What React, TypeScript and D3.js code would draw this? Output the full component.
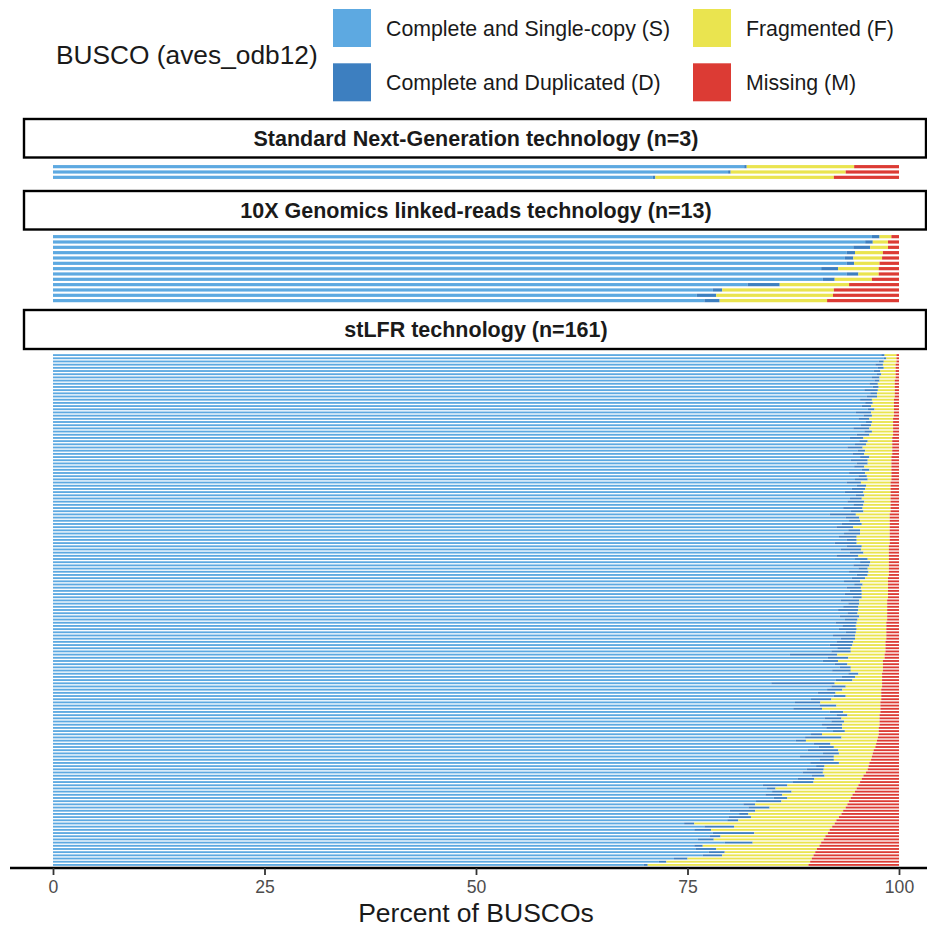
import * as d3 from "d3";
import { useEffect, useRef } from "react";

// BUSCO categories, legend and facets
const categories = ["S", "D", "F", "M"];
const categoryLabels = [
  "Complete and Single-copy (S)",
  "Complete and Duplicated (D)",
  "Fragmented (F)",
  "Missing (M)",
];
const categoryColors = ["#5DA9E1", "#3D7FC0", "#EAE44F", "#DC3B34"];
const panelTitles = [
  "Standard Next-Generation technology (n=3)",
  "10X Genomics linked-reads technology (n=13)",
  "stLFR technology (n=161)",
];
const xTicks = [0, 25, 50, 75, 100];

// Standard NGS (n=3)
const standardS = [81.7, 79.8, 70.9];
const standardD = [0.3, 0.3, 0.3];
const standardF = [12.7, 13.6, 21.1];
const standardM = [5.3, 6.3, 7.7];

// 10X linked reads (n=13)
const tenxS = [96.8, 96.0, 94.6, 93.8, 93.6, 93.8, 90.8, 93.8, 91.0, 82.1, 78.0, 76.1, 77.0];
const tenxD = [0.9, 0.9, 2.0, 1.0, 1.0, 0.9, 2.0, 1.4, 1.4, 3.8, 1.1, 2.3, 1.8];
const tenxF = [1.4, 1.8, 2.1, 3.3, 3.4, 3.0, 4.8, 2.4, 4.4, 8.2, 13.2, 13.8, 12.7];
const tenxM = [0.9, 1.3, 1.3, 1.9, 2.0, 2.3, 2.4, 2.4, 3.2, 5.9, 7.7, 7.8, 8.5];

// stLFR (n=161)
const stlfrS = [
  97.9, 98.2, 97.6, 97.2, 97.5, 97.0, 97.4, 96.8, 97.1, 96.5,
  96.9, 95.9, 96.6, 96.2, 95.4, 96.0, 95.6, 96.3, 94.9, 95.8,
  95.2, 96.1, 95.5, 94.6, 95.9, 95.0, 94.2, 95.3, 94.8, 93.9,
  95.1, 94.5, 95.4, 94.3, 95.0, 94.7, 95.6, 94.1, 95.2, 94.8,
  93.8, 95.0, 94.4, 93.6, 94.9, 94.2, 93.9, 94.6, 93.4, 94.3,
  91.8, 93.7, 94.1, 93.2, 92.6, 94.0, 93.5, 92.9, 93.8, 92.4,
  93.8, 93.1, 94.2, 92.6, 94.8, 95.4, 94.6, 95.2, 94.1, 95.0,
  94.4, 93.5, 94.7, 93.8, 94.2, 93.6, 94.5, 93.1, 94.0, 93.4,
  92.8, 93.9, 93.0, 93.6, 92.5, 93.3, 92.9, 93.7, 92.2, 93.1,
  92.6, 91.8, 92.7, 92.0, 87.1, 91.6, 91.0, 92.4, 93.0, 92.1,
  94.0, 93.2, 92.5, 84.9, 92.0, 91.5, 90.4, 92.3, 89.6, 87.7,
  90.6, 87.5, 91.8, 92.6, 91.2, 92.0, 90.9, 91.4, 92.2, 89.6,
  88.9, 87.8, 89.9, 90.5, 89.2, 91.0, 88.3, 90.6, 89.5, 90.2,
  89.1, 88.6, 89.7, 88.0, 87.4, 83.9, 84.4, 85.0, 84.2, 85.2,
  83.1, 81.6, 82.2, 80.0, 81.1, 79.9, 79.7, 74.6, 77.0, 75.8,
  78.0, 77.6, 76.2, 79.4, 75.8, 76.0, 77.5, 76.8, 73.4, 71.6,
  69.8,
];
const stlfrD = [
  0.4, 0.3, 0.6, 0.9, 0.7, 0.8, 0.5, 0.9, 0.6, 1.0,
  0.7, 1.6, 0.8, 1.2, 1.4, 0.9, 1.1, 0.8, 1.8, 1.0,
  1.3, 0.7, 1.2, 1.9, 0.9, 1.5, 1.6, 1.0, 1.3, 1.8,
  0.9, 1.4, 1.1, 2.0, 1.3, 1.2, 0.9, 1.9, 1.0, 1.5,
  1.7, 1.1, 1.6, 2.2, 1.0, 1.4, 2.0, 1.2, 2.3, 1.5,
  3.1, 1.6, 1.3, 2.4, 2.0, 1.4, 1.9, 2.1, 1.2, 2.6,
  1.8, 2.4, 1.6, 2.6, 1.5, 1.2, 1.9, 1.1, 2.3, 1.3,
  1.6, 1.9, 1.0, 1.7, 1.4, 2.0, 1.1, 2.2, 1.3, 1.8,
  2.4, 1.2, 2.3, 1.5, 2.5, 1.6, 2.1, 1.2, 2.6, 1.7,
  2.0, 2.7, 1.6, 2.3, 5.6, 2.4, 1.8, 1.5, 1.3, 2.2,
  1.2, 1.6, 2.0, 7.5, 1.7, 1.8, 2.1, 1.4, 2.4, 3.0,
  2.0, 3.4, 1.6, 1.3, 2.0, 1.5, 2.4, 1.9, 1.4, 1.3,
  4.3, 1.2, 2.0, 1.8, 3.6, 1.9, 4.0, 1.7, 3.4, 1.0,
  2.0, 2.4, 1.5, 2.0, 2.5, 2.9, 1.0, 2.3, 2.0, 1.6,
  3.0, 1.4, 2.5, 3.0, 1.1, 2.6, 1.3, 1.2, 3.5, 2.0,
  4.9, 1.3, 1.9, 3.3, 1.0, 2.4, 1.9, 2.3, 1.6, 0.9,
  0.5,
];
const stlfrF = [
  1.4, 1.2, 1.5, 1.5, 1.4, 1.8, 1.7, 1.9, 1.8, 2.0,
  1.9, 2.0, 2.1, 2.1, 2.6, 2.5, 2.7, 2.3, 2.7, 2.6,
  2.8, 2.5, 2.6, 2.8, 2.5, 2.8, 3.4, 2.9, 3.1, 3.5,
  3.2, 3.3, 2.6, 2.8, 2.8, 3.2, 2.6, 3.1, 2.9, 2.8,
  3.5, 2.9, 3.0, 3.2, 3.1, 3.4, 3.1, 3.2, 3.3, 3.2,
  4.0, 3.6, 3.5, 3.3, 4.3, 3.5, 3.5, 3.9, 3.9, 3.9,
  3.2, 3.3, 3.0, 3.6, 2.5, 2.2, 2.3, 2.5, 2.4, 2.5,
  2.7, 3.3, 3.0, 3.2, 3.1, 3.1, 3.1, 3.3, 3.3, 3.4,
  3.4, 3.5, 3.3, 3.5, 3.5, 3.6, 3.5, 3.6, 3.7, 3.7,
  3.8, 3.9, 4.1, 4.1, 5.6, 4.3, 5.3, 4.2, 3.8, 3.8,
  2.8, 3.2, 3.5, 5.6, 4.3, 4.6, 5.4, 4.2, 5.9, 7.1,
  5.2, 6.9, 4.4, 3.8, 4.5, 4.2, 4.4, 4.3, 4.0, 6.7,
  4.3, 8.4, 5.4, 4.9, 4.2, 4.0, 4.5, 4.4, 3.6, 5.2,
  5.2, 5.1, 4.6, 5.6, 5.5, 8.4, 9.6, 7.5, 8.3, 7.5,
  8.0, 10.9, 9.0, 10.4, 11.0, 10.4, 11.6, 16.6, 11.6, 14.0,
  8.7, 12.4, 13.0, 8.1, 13.8, 11.9, 10.7, 10.8, 14.7, 17.0,
  19.0,
];
const stlfrM = [
  0.3, 0.3, 0.3, 0.4, 0.4, 0.4, 0.4, 0.4, 0.5, 0.5,
  0.5, 0.5, 0.5, 0.5, 0.6, 0.6, 0.6, 0.6, 0.6, 0.6,
  0.7, 0.7, 0.7, 0.7, 0.7, 0.7, 0.8, 0.8, 0.8, 0.8,
  0.8, 0.8, 0.9, 0.9, 0.9, 0.9, 0.9, 0.9, 0.9, 0.9,
  1.0, 1.0, 1.0, 1.0, 1.0, 1.0, 1.0, 1.0, 1.0, 1.0,
  1.1, 1.1, 1.1, 1.1, 1.1, 1.1, 1.1, 1.1, 1.1, 1.1,
  1.2, 1.2, 1.2, 1.2, 1.2, 1.2, 1.2, 1.2, 1.2, 1.2,
  1.3, 1.3, 1.3, 1.3, 1.3, 1.3, 1.3, 1.4, 1.4, 1.4,
  1.4, 1.4, 1.4, 1.4, 1.5, 1.5, 1.5, 1.5, 1.5, 1.5,
  1.6, 1.6, 1.6, 1.6, 1.7, 1.7, 1.9, 1.9, 1.9, 1.9,
  2.0, 2.0, 2.0, 2.0, 2.0, 2.1, 2.1, 2.1, 2.1, 2.2,
  2.2, 2.2, 2.2, 2.3, 2.3, 2.3, 2.3, 2.4, 2.4, 2.4,
  2.5, 2.6, 2.7, 2.8, 3.0, 3.1, 3.2, 3.3, 3.5, 3.6,
  3.7, 3.9, 4.2, 4.4, 4.6, 4.8, 5.0, 5.2, 5.5, 5.7,
  5.9, 6.1, 6.3, 6.6, 6.8, 7.1, 7.4, 7.6, 7.9, 8.2,
  8.4, 8.7, 8.9, 9.2, 9.4, 9.7, 9.9, 10.1, 10.3, 10.5,
  10.7,
];

const W = 927;
const H = 930;
const FONT = "'Liberation Sans', Arial, Helvetica, sans-serif";

const x = d3.scaleLinear().domain([0, 100]).range([53, 899]);

const panels = [
  { title: panelTitles[0], cols: [standardS, standardD, standardF, standardM], strip: [119, 157.5], y: [164, 180], pad: 0.4 },
  { title: panelTitles[1], cols: [tenxS, tenxD, tenxF, tenxM], strip: [191, 229.5], y: [234, 303.3], pad: 0.4 },
  { title: panelTitles[2], cols: [stlfrS, stlfrD, stlfrF, stlfrM], strip: [310, 349], y: [353.5, 866.5], pad: 0.42 },
];

function Panel({ p }) {
  const n = p.cols[0].length;
  const y = d3
    .scaleBand()
    .domain(d3.range(n))
    .range(p.y)
    .paddingInner(p.pad)
    .paddingOuter(p.pad / 2);
  const rows = d3.range(n).map((i) => {
    let acc = 0;
    return categories.map((c, k) => {
      const v = p.cols[k][i];
      const seg = { key: c, i, x0: acc, x1: acc + v, color: categoryColors[k] };
      acc += v;
      return seg;
    });
  });
  return (
    <g>
      <rect
        x={24}
        y={p.strip[0]}
        width={902}
        height={p.strip[1] - p.strip[0]}
        fill="white"
        stroke="black"
        strokeWidth={2.4}
      />
      <text
        x={476}
        y={(p.strip[0] + p.strip[1]) / 2}
        dy="0.36em"
        textAnchor="middle"
        fontWeight="bold"
        fontSize={21.5}
        fill="#1a1a1a"
      >
        {p.title}
      </text>
      {rows.flat().map((s) => (
        <rect
          key={s.key + s.i}
          x={x(s.x0)}
          y={y(s.i)}
          width={Math.max(0, x(s.x1) - x(s.x0))}
          height={y.bandwidth()}
          fill={s.color}
        />
      ))}
    </g>
  );
}

export default function App() {
  const axisRef = useRef(null);

  useEffect(() => {
    const g = d3.select(axisRef.current);
    g.call(d3.axisBottom(x).tickValues(xTicks).tickSize(7).tickPadding(6).tickSizeOuter(0));
    g.select(".domain").remove();
    g.attr("font-family", FONT).attr("font-size", 17.6);
    g.selectAll(".tick line").attr("stroke", "#333").attr("stroke-width", 1.8);
    g.selectAll(".tick text").attr("fill", "#4D4D4D");
  }, []);

  const legendItems = categoryLabels.map((label, k) => ({
    label,
    color: categoryColors[k],
    col: Math.floor(k / 2),
    row: k % 2,
  }));

  return (
    <svg
      width={W}
      height={H}
      style={{ position: "absolute", left: 0, top: 0, background: "white" }}
      fontFamily={FONT}
    >
      <rect width={W} height={H} fill="white" />

      {/* legend */}
      <text x={56} y={55} dy="0.36em" fontSize={26.3} fill="#1a1a1a">
        BUSCO (aves_odb12)
      </text>
      {legendItems.map((d) => {
        const kx = d.col === 0 ? 333 : 693;
        const ky = d.row === 0 ? 9 : 63.3;
        return (
          <g key={d.label}>
            <rect x={kx} y={ky} width={38} height={38} fill={d.color} />
            <text x={kx + 53} y={ky + 19} dy="0.36em" fontSize={21.3} fill="#1a1a1a">
              {d.label}
            </text>
          </g>
        );
      })}

      {panels.map((p) => (
        <Panel key={p.title} p={p} />
      ))}

      {/* x axis */}
      <line x1={10} x2={927} y1={868} y2={868} stroke="black" strokeWidth={2.6} />
      <g ref={axisRef} transform="translate(0,868)" />
      <text x={476} y={922} textAnchor="middle" fontSize={26.5} fill="#1a1a1a">
        Percent of BUSCOs
      </text>
    </svg>
  );
}
